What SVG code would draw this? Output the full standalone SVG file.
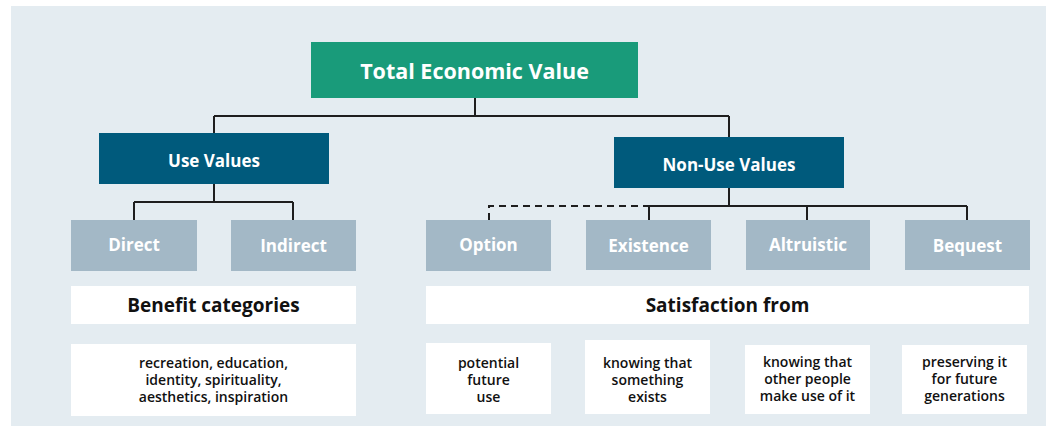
<svg xmlns="http://www.w3.org/2000/svg" width="1046" height="426" viewBox="0 0 1046 426">
<style>
text{font-family:"Open Sans","Noto Sans","Liberation Sans",sans-serif;text-anchor:middle;dominant-baseline:central}
.top{fill:#199b7a}
.mid{fill:#005a7c}
.cat{fill:#a3b8c6}
.wb{fill:#ffffff}
.tt{fill:#fff;font-weight:700;font-size:21.5px}
.mt{fill:#fff;font-weight:700;font-size:17px}
.ct{fill:#fff;font-weight:700;font-size:17px}
.ht{fill:#111;font-weight:700;font-size:19px}
.dt{fill:#111;font-weight:600;font-size:14px}
.ln{stroke:#1e1e1e;stroke-width:2;fill:none}
.dash{stroke-dasharray:7 5}
</style>
<rect x="0" y="0" width="1046" height="426" fill="#ffffff"/>
<rect x="11" y="6" width="1035" height="420" fill="#e4ecf1"/>
<g id="connectors">
<path class="ln" d="M475,98 V116 M214,116 H729 M214,116 V133 M729,116 V137"/>
<path class="ln" d="M214,184 V202 M134,202 H293 M134,202 V220 M293,202 V220"/>
<path class="ln" d="M729,188 V206 M649,206 H967 M649,206 V220 M807,206 V220 M967,206 V220"/>
<path class="ln dash" d="M489,220 V206 H649"/>
</g>
<g id="tev"><rect class="top" x="311" y="42" width="327" height="56"/><text class="tt" x="474.5" y="70">Total Economic Value</text></g>
<g id="use"><rect class="mid" x="99" y="133" width="230" height="51"/><text class="mt" x="214" y="160">Use Values</text></g>
<g id="nonuse"><rect class="mid" x="614" y="137" width="230" height="51"/><text class="mt" x="729" y="164">Non-Use Values</text></g>
<g id="direct"><rect class="cat" x="71" y="220" width="126" height="51"/><text class="ct" x="134" y="244">Direct</text></g>
<g id="indirect"><rect class="cat" x="231" y="220" width="125" height="51"/><text class="ct" x="293.5" y="245">Indirect</text></g>
<g id="option"><rect class="cat" x="426" y="220" width="125" height="51"/><text class="ct" x="488.5" y="244">Option</text></g>
<g id="existence"><rect class="cat" x="586" y="220" width="125" height="50"/><text class="ct" x="648.5" y="245">Existence</text></g>
<g id="altruistic"><rect class="cat" x="746" y="220" width="124" height="50"/><text class="ct" x="808" y="244">Altruistic</text></g>
<g id="bequest"><rect class="cat" x="905" y="220" width="125" height="50"/><text class="ct" x="967.5" y="245">Bequest</text></g>
<g id="benefit"><rect class="wb" x="71" y="286" width="285" height="38"/><text class="ht" x="213.5" y="305">Benefit categories</text></g>
<g id="satisfaction"><rect class="wb" x="426" y="286" width="603" height="38"/><text class="ht" x="727.5" y="305">Satisfaction from</text></g>
<g id="benefit-desc"><rect class="wb" x="71" y="344" width="285" height="72"/>
<text class="dt" x="213.5" y="362">recreation, education,</text>
<text class="dt" x="213.5" y="379">identity, spirituality,</text>
<text class="dt" x="213.5" y="396">aesthetics, inspiration</text></g>
<g id="option-desc"><rect class="wb" x="426" y="343" width="125" height="71"/>
<text class="dt" x="488.5" y="362">potential</text>
<text class="dt" x="488.5" y="379">future</text>
<text class="dt" x="488.5" y="396">use</text></g>
<g id="existence-desc"><rect class="wb" x="585" y="340" width="125" height="74"/>
<text class="dt" x="647.5" y="362">knowing that</text>
<text class="dt" x="647.5" y="379">something</text>
<text class="dt" x="647.5" y="396">exists</text></g>
<g id="altruistic-desc"><rect class="wb" x="745" y="345" width="125" height="69"/>
<text class="dt" x="807.5" y="361">knowing that</text>
<text class="dt" x="807.5" y="378">other people</text>
<text class="dt" x="807.5" y="395">make use of it</text></g>
<g id="bequest-desc"><rect class="wb" x="902" y="345" width="125" height="69"/>
<text class="dt" x="964.5" y="361">preserving it</text>
<text class="dt" x="964.5" y="378">for future</text>
<text class="dt" x="964.5" y="395">generations</text></g>
</svg>
